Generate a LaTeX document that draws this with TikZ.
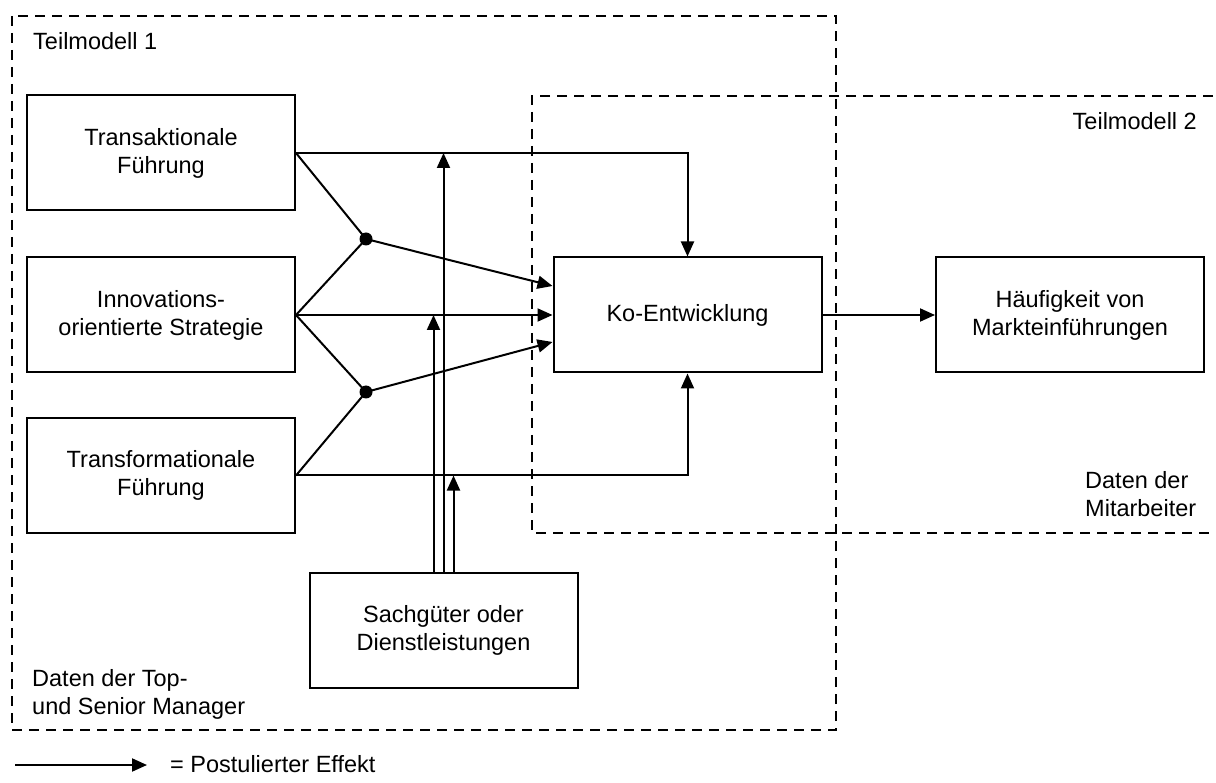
\documentclass[tikz,border=0pt]{standalone}
\usepackage{fontspec}
\setmainfont{Liberation Sans}
\usetikzlibrary{arrows.meta}
\begin{document}
\begin{tikzpicture}[x=1pt,y=-1pt,
  font=\fontsize{23.5}{28}\selectfont,
  every node/.style={inner sep=0pt},
  box/.style={draw, line width=2pt, minimum width=268pt, minimum height=115pt, align=center},
  frame/.style={draw, dash pattern=on 10pt off 7pt, line width=2pt},
  link/.style={line width=2pt},
  effect/.style={link, -{Triangle[length=15pt,width=13pt]}},
  junction/.style={circle, fill, inner sep=0pt, minimum size=13pt},
  note/.style={align=left}
]
\useasboundingbox (0,0) rectangle (1216,783);

% sub-model frames
\draw[frame] (12,16) rectangle (836,730);
\draw[frame] (1230,96) -- (532,96) -- (532,533) -- (1230,533);

% constructs
\node[box] (tr)  at (161,153)   {Transaktionale\\Führung};
\node[box] (inn) at (161,315)   {Innovations-\\orientierte Strategie};
\node[box] (trf) at (161,475.5) {Transformationale\\Führung};
\node[box] (ko)  at (687.5,315) {Ko-Entwicklung};
\node[box] (hf)  at (1070,315)  {Häufigkeit von\\Markteinführungen};
\node[box] (sg)  at (443.5,630.5) {Sachgüter oder\\Dienstleistungen};

% interaction junctions
\node[junction] (d1) at (366,239) {};
\node[junction] (d2) at (366,392) {};

% main effects
\draw[effect] (tr.east) -| (ko.north);
\draw[effect] (inn.east) -- (ko.west);
\draw[effect] (trf.east) -| (ko.south);
\draw[effect] (ko) -- (hf);

% interaction terms
\draw[link] (tr.east) -- (d1.center);
\draw[link] (inn.east) -- (d1.center);
\draw[effect] (d1.center) -- ([yshift=29pt]ko.west);
\draw[link] (inn.east) -- (d2.center);
\draw[link] (trf.east) -- (d2.center);
\draw[effect] (d2.center) -- ([yshift=-27pt]ko.west);

% moderating paths
\coordinate (m1) at ([xshift=-10pt]sg.north);
\coordinate (m2) at (sg.north);
\coordinate (m3) at ([xshift=10pt]sg.north);
\draw[effect] (m2) -- (m2 |- tr.east);
\draw[effect] (m1) -- (m1 |- inn.east);
\draw[effect] (m3) -- (m3 |- trf.east);

% frame labels
\node[anchor=base west] (t1) at (33,50) {Teilmodell 1};
\node[anchor=base east] (t2) at (1197,130) {Teilmodell 2};
\node[note, anchor=west] (dm) at (1085,494.5) {Daten der\\Mitarbeiter};
\node[note, anchor=west] (dt) at (32,694) {Daten der Top-\\und Senior Manager};

% legend
\coordinate (legA) at (15,765);
\coordinate (legB) at (147,765);
\draw[effect] (legA) -- (legB);
\node[anchor=base west] (legT) at (170,772) {= Postulierter Effekt};
\end{tikzpicture}
\end{document}
